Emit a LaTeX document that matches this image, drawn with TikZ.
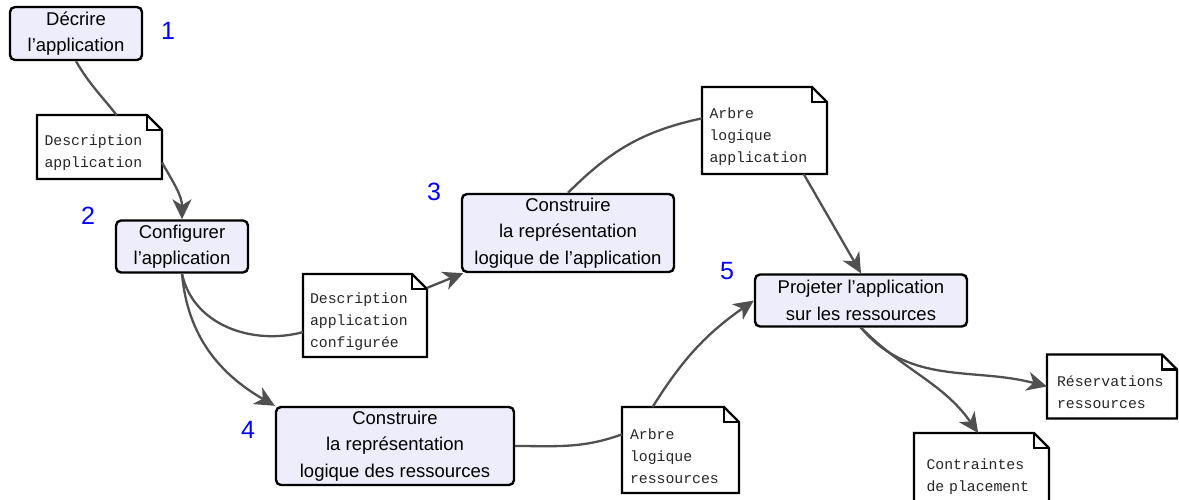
\documentclass[tikz,border=0pt]{standalone}
\usepackage{fontspec}
\newfontfamily\procfont{Liberation Sans}
\newfontfamily\docfont{Liberation Mono}
\usetikzlibrary{arrows.meta}
\definecolor{procfill}{RGB}{237,237,251}
\definecolor{linkgray}{RGB}{80,80,80}
\definecolor{stepblue}{RGB}{0,0,255}

\begin{document}
\begin{tikzpicture}[x=1pt,y=-1pt,
  proc/.style={draw=black, line width=2.4pt, rounded corners=5pt, fill=procfill,
    align=center, inner sep=0pt, font=\procfont\fontsize{18.5}{26.5}\selectfont},
  doc/.style={fill=white, inner sep=0pt, outer sep=0pt, text width=110pt,
    align=left, text=black!85, font=\docfont\fontsize{14.8}{22}\selectfont,
    execute at begin node={\rule{0pt}{23pt}}},
  docline/.style={draw=black, line width=2.2pt, line join=miter},
  link/.style={draw=linkgray, line width=2.3pt},
  flow/.style={link, -{Stealth[length=20pt,width=19pt,inset=6pt]}},
  stepnum/.style={text=stepblue, inner sep=0pt, font=\procfont\fontsize{25}{25}\selectfont}
]
\useasboundingbox (0,0) rectangle (1179,499);

% process steps
\node[proc, minimum width=132pt, minimum height=53pt] (p1) at (76,33.5) {Décrire\\l’application};
\node[proc, minimum width=132pt, minimum height=52pt] (p2) at (182,246.5) {Configurer\\l’application};
\node[proc, minimum width=212pt, minimum height=78pt] (p3) at (568,233) {Construire\\la représentation\\logique de l’application};
\node[proc, minimum width=238pt, minimum height=78pt] (p4) at (395,446) {Construire\\la représentation\\logique des ressources};
\node[proc, minimum width=212pt, minimum height=52pt] (p5) at (861,300.5) {Projeter l’application\\sur les ressources};

% step numbers
\node[stepnum] (n1) at (168,31) {1};
\node[stepnum] (n2) at (88,216) {2};
\node[stepnum] (n3) at (434,192) {3};
\node[stepnum] (n4) at (248,430) {4};
\node[stepnum] (n5) at (727,271) {5};

% documents
\node[doc, minimum width=125pt, minimum height=64pt] (d1) at (99.5,147) {Description\\application};
\node[doc, minimum width=124pt, minimum height=83pt] (d2) at (365,315.5) {Description\\application\\configurée};
\node[doc, minimum width=125pt, minimum height=87pt] (d3) at (764.5,130.5) {Arbre\\logique\\application};
\node[doc, minimum width=117pt, minimum height=86pt, text width=101pt] (d4) at (680.5,450) {Arbre\\logique\\ressources};
\node[doc, minimum width=130pt, minimum height=64pt] (d5) at (1112,386.5) {Réservations\\ressources};
\node[doc, minimum width=135pt, minimum height=76pt] (d6) at (981.5,471) {Contraintes\\de placement};

% document outlines with folded corner
\def\ear{15pt}
\foreach \d in {d1,d2,d3,d4,d5,d6}{
  \draw[docline] (\d.south west) -- (\d.north west) -- ([xshift=-\ear]\d.north east)
    -- ([yshift=-\ear]\d.north east) -- (\d.south east) -- cycle;
  \draw[docline] ([xshift=-\ear]\d.north east) |- ([yshift=-\ear]\d.north east);
}

% data flow
\draw[link] (p1.south) to[out=-60,in=128] (d1.62);
\draw[flow] (d1.-14) to[out=-60,in=90] (p2.north);
\draw[link] (p2.south) to[out=-78,in=195] (d2.195);
\draw[flow] (p2.south) to[out=-85,in=150] (p4.north west);
\draw[flow] (d2.24) -- (p3.201);
\draw[link] (p3.north) to[out=45,in=192] (d3.169);
\draw[flow] (d3.-48) -- (p5.north);
\draw[link] (p4.east) to[out=0,in=200] (d4.165);
\draw[flow] (d4.123) to[out=58,in=215] (p5.west);
\draw[flow] (p5.south) to[out=-50,in=165] (d5.west);
\draw[flow] (p5.south) to[out=-45,in=125] (d6.95);
\end{tikzpicture}
\end{document}
